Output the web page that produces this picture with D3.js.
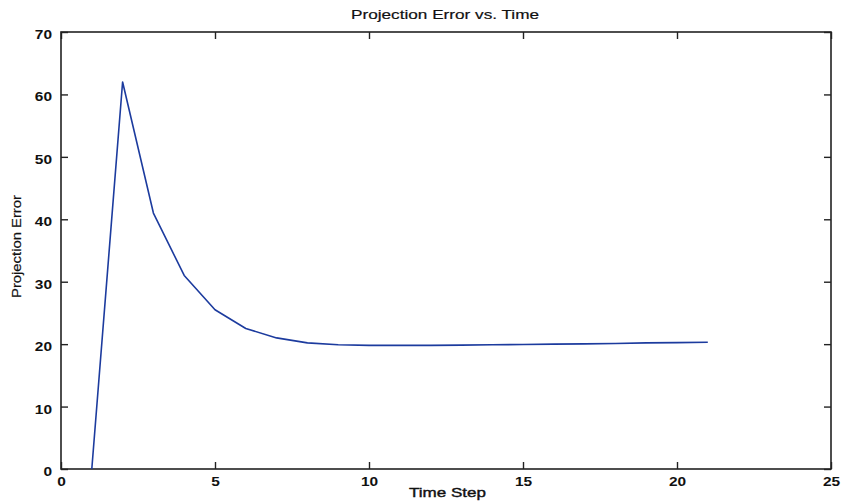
<!DOCTYPE html>
<html><head><meta charset="utf-8">
<script src="https://cdn.jsdelivr.net/npm/d3@7"></script>
<style>
body{margin:0;background:#fff;}
text{font-family:"Liberation Sans",Arial,sans-serif;fill:#111;}
</style></head>
<body><svg id="c" width="844" height="501"></svg>
<script>
const timeSteps = [1,2,3,4,5,6,7,8,9,10,11,12,13,14,15,16,17,18,19,20,21];
const projError = [0,62,41,31,25.5,22.5,21,20.2,19.9,19.8,19.8,19.8,19.85,19.9,19.95,20.0,20.05,20.1,20.2,20.25,20.3];
const xTicks = [0,5,10,15,20,25];
const yTicks = [0,10,20,30,40,50,60,70];

const svg = d3.select("#c");
const L=61,R=831,T=32,B=469;
const x = d3.scaleLinear().domain([0,25]).range([L,R]);
const y = d3.scaleLinear().domain([0,70]).range([B,T]);
const tl=7;
const g = svg.append("g");
g.append("rect").attr("x",L).attr("y",T).attr("width",R-L).attr("height",B-T)
 .attr("fill","none").attr("stroke","#222").attr("stroke-width",1.6);
const ax = (gen, tr) => { const a = g.append("g").attr("transform",tr).call(gen);
  a.select(".domain").remove(); a.selectAll("line").attr("stroke","#222").attr("stroke-width",1.4); return a; };
const bx = ax(d3.axisBottom(x).tickValues(xTicks).tickSizeInner(-tl).tickSizeOuter(0).tickPadding(8), `translate(0,${B})`);
ax(d3.axisTop(x).tickValues(xTicks).tickSizeInner(-tl).tickSizeOuter(0).tickFormat(""), `translate(0,${T})`);
const ly = ax(d3.axisLeft(y).tickValues(yTicks).tickSizeInner(-tl).tickSizeOuter(0).tickPadding(9), `translate(${L},0)`);
ax(d3.axisRight(y).tickValues(yTicks).tickSizeInner(-tl).tickSizeOuter(0).tickFormat(""), `translate(${R},0)`);
[bx,ly].forEach(a=>a.selectAll("text").attr("font-size",13).attr("font-weight","bold")
  .style("font-family","'Liberation Sans',Arial,sans-serif").attr("fill","#111")
  .attr("textLength",d=>String(d).length*8.6).attr("lengthAdjust","spacingAndGlyphs"));
bx.selectAll("text").attr("dy","0.71em");
ly.selectAll("text").attr("dy","0.5em");
const line = d3.line().x((d,i)=>x(timeSteps[i])).y(d=>y(d));
g.append("path").datum(projError).attr("d",line).attr("fill","none")
 .attr("stroke","#1c3b9e").attr("stroke-width",1.6).attr("stroke-linejoin","round");
svg.append("text").attr("x",445).attr("y",18.5).attr("text-anchor","middle")
 .attr("font-size",13.5).attr("stroke","#111").attr("stroke-width",0.2)
 .attr("textLength",188).attr("lengthAdjust","spacingAndGlyphs").text("Projection Error vs. Time");
svg.append("text").attr("x",447.5).attr("y",497).attr("text-anchor","middle")
 .attr("font-size",13.5).attr("stroke","#111").attr("stroke-width",0.4)
 .attr("textLength",77).attr("lengthAdjust","spacingAndGlyphs").text("Time Step");
svg.append("text").attr("transform","translate(21,246.5) rotate(-90)").attr("text-anchor","middle")
 .attr("font-size",13).attr("stroke","#111").attr("stroke-width",0.2)
 .attr("textLength",103).attr("lengthAdjust","spacingAndGlyphs").text("Projection Error");
</script></body></html>
